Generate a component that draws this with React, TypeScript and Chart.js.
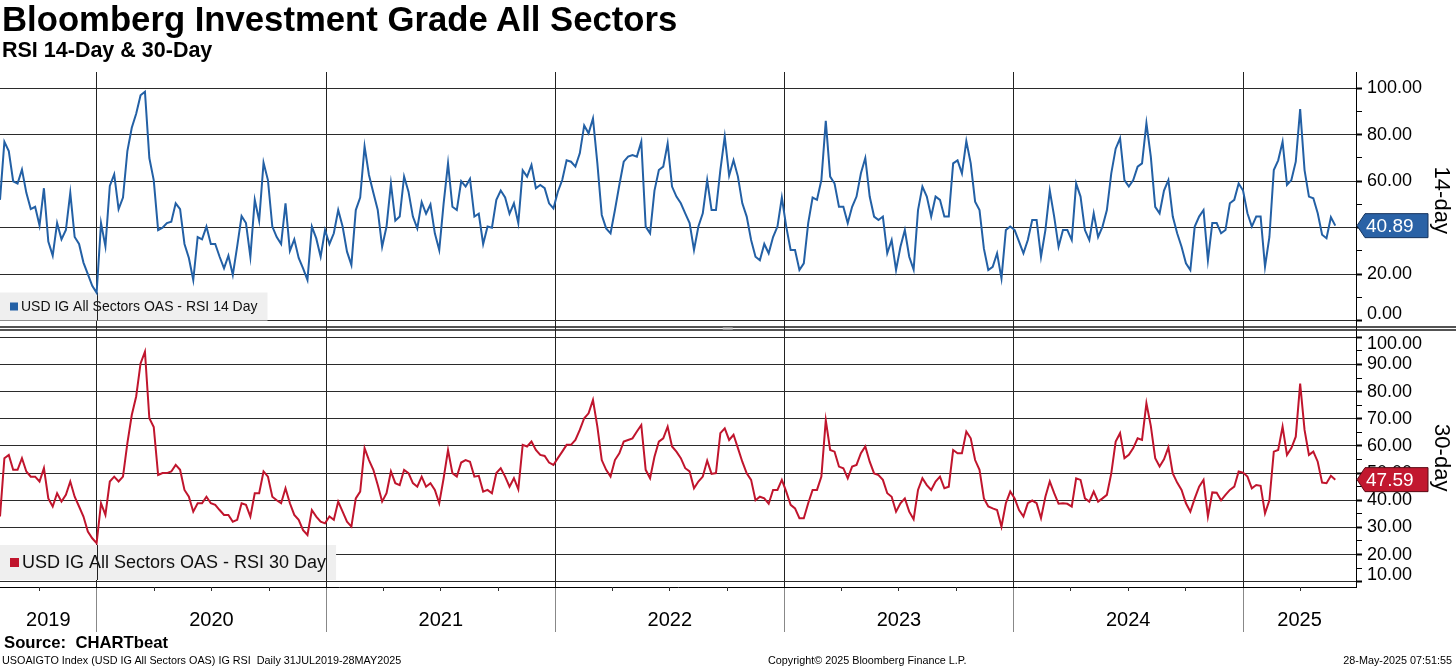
import React, { useEffect, useRef } from "react";
import { Chart, registerables } from "chart.js";

Chart.register(...registerables);

// ---------------- data ----------------
const START_DATE = "2019-07-31"; // first weekly observation
const AXIS_END_DATE = "2025-06-30";
const YEARS = ["2019", "2020", "2021", "2022", "2023", "2024", "2025"];
const RSI14_TICKS = [0, 10, 20, 30, 40, 50, 60, 70, 80, 90, 100];
const RSI14_LABELED = [0, 20, 40, 60, 80, 100];
const RSI30_TICKS = [10, 15, 20, 25, 30, 35, 40, 45, 50, 55, 60, 65, 70, 75, 80, 85, 90, 95, 100];
const RSI30_LABELED = [10, 20, 30, 40, 50, 60, 70, 80, 90, 100];
const SERIES14_NAME = "USD IG All Sectors OAS - RSI 14 Day";
const SERIES30_NAME = "USD IG All Sectors OAS - RSI 30 Day";
const AXIS14_TITLE = "14-day";
const AXIS30_TITLE = "30-day";

// weekly readings, 31JUL2019 .. 28MAY2025
const RSI14: number[] = [
  52, 77, 73, 60, 59, 65, 55, 48, 49, 41, 57, 34, 28, 42, 35, 39, 55, 36, 33, 25,
  20, 15, 12, 42, 32, 58, 63, 48, 53, 73, 83, 89, 97, 98.5, 70, 60.5, 39, 40, 42, 42.6,
  50.5, 48, 33, 27, 17.5, 36, 35, 40.5, 33, 33, 27.5, 22.5, 28, 19.7, 32, 45, 42, 27.5, 52, 43,
  68, 60.5, 40.5, 36, 33, 50.5, 30, 35, 27, 22.5, 17.5, 40.5, 35.4, 27.5, 39, 33, 37.6, 47.6, 40.5, 29.7,
  24, 47.6, 53, 75, 62.7, 55, 47.6, 31.8, 40.5, 59, 43, 44.8, 62, 55.5, 44.8, 39.7, 51, 46, 50, 37.6,
  30.4, 50.5, 67.7, 49, 47.6, 60, 57.7, 61, 44.8, 46, 33, 40.5, 40, 52, 56, 53, 46, 50.5, 42, 64.7,
  62, 67, 57, 58.4, 57, 50.5, 48.3, 55.5, 60.5, 69, 68.4, 66.3, 72, 84, 80.6, 87, 67.7, 45.5, 39.7, 37.6,
  47.6, 58.4, 68.4, 70.6, 71.3, 70.6, 77, 40.5, 37.6, 56, 64.8, 66.3, 76.3, 57.7, 53.4, 50.5, 46.2, 42, 30.4, 40.5,
  46.2, 60.5, 47.6, 47.6, 64.8, 79.2, 62.4, 69, 62, 50.5, 44.8, 34.7, 27.5, 26, 33, 29, 36, 40.5, 53, 40.5,
  30.4, 30.4, 21.8, 24.7, 42, 53, 52, 60.5, 86, 62, 59, 49, 49, 42, 49, 53.4, 63.4, 70, 53.4, 44.8,
  43.3, 44.8, 29, 34.7, 21.8, 31.8, 39, 27.5, 22, 47.6, 57.7, 53.4, 44.8, 53.4, 52, 44.8, 44.8, 67.7, 69, 63.4,
  77.3, 67.7, 51.2, 47.6, 31, 21.8, 23.2, 29, 18.2, 39, 40.5, 39, 34, 29, 34.7, 43.3, 43.3, 27.5, 39, 56,
  44.8, 31.8, 39, 39, 34.7, 59, 53.4, 39, 34.7, 46.2, 36, 40.5, 47.6, 63.4, 74, 78.5, 60.5, 57.7, 60.5, 66.3,
  67.7, 85, 70.6, 49, 46.2, 56, 60.5, 44.8, 37.6, 31.8, 24.7, 21.8, 40.5, 44.8, 47.6, 26, 42, 42, 37.6, 39,
  50.5, 52, 59, 56, 46.2, 40.5, 44.8, 44.8, 23.2, 36, 64.8, 69, 77, 58.4, 60.5, 68.4, 91, 64.8, 53.4, 52.7,
  46.2, 37, 35.5, 44.5, 40.89,
];

const RSI30: number[] = [
  34, 55.5, 56.7, 51.2, 51.2, 55.5, 50.6, 48.7, 48.7, 46.9, 51.8, 40.7, 37.7, 42.6, 39.5, 42, 46.9, 41.3, 37.7, 34,
  28.5, 26, 24.2, 38.9, 34.6, 46.9, 48.7, 46.9, 48.7, 61, 71.4, 78.2, 90.4, 94.7, 70.2, 67, 49.3, 50, 50, 50.6,
  53, 51.2, 43.8, 41.3, 35.8, 38.9, 38.9, 41.3, 38.9, 38.3, 36.4, 34.6, 34.6, 32.1, 32.8, 38.9, 38.3, 34, 42.6, 42.6,
  50.6, 48.7, 41.3, 40, 38.9, 44.4, 38.9, 34.6, 32.8, 29, 27.2, 36.4, 34, 32.1, 31.5, 34, 32.8, 39.5, 35.8, 32.1,
  30.3, 40.7, 43.2, 59.2, 54.8, 51.2, 45.6, 39.5, 42.6, 50.6, 46.3, 45.6, 51.2, 50, 46.3, 45, 48.7, 45, 46.3, 43.8,
  38.9, 48.1, 58.5, 50, 48.7, 53.9, 54.8, 54.2, 48.7, 49, 43.2, 43.8, 42.6, 50, 51.8, 48.7, 45, 48.1, 44, 60.4,
  59.8, 61.6, 58.5, 56.7, 56.3, 53.9, 53, 55.5, 57.9, 60.4, 60.4, 62.2, 65.9, 70.2, 72, 76.9, 67.1, 54.8, 51.2, 48.7,
  54.8, 57.3, 61.6, 62.2, 62.8, 65.3, 67.7, 51.2, 48.1, 56, 61.6, 62.8, 67.1, 59.8, 57.9, 55.5, 51.8, 50.6, 44.4, 46.9,
  48.7, 54.6, 49.7, 50, 64.7, 66.5, 62.2, 64.1, 59.2, 54.2, 49.9, 47.5, 40, 41.3, 40.7, 38.7, 43.8, 43.8, 47.5, 43.2,
  38.3, 37, 33.4, 33.4, 38.9, 43.8, 43.8, 48.7, 69.5, 58.5, 57.9, 52.4, 51.8, 48.1, 52.4, 53, 57.3, 59.8, 54.2, 49.9,
  49.3, 47.5, 42.6, 41.3, 35.8, 38.9, 40.7, 35.8, 33, 43.8, 48.1, 45.6, 43.8, 46.9, 48.7, 44.4, 45, 58.5, 57.3, 57.3,
  65.3, 62.8, 54.8, 51.2, 40.7, 37.7, 37, 36.4, 30.3, 38.9, 43.2, 40.7, 36.4, 34, 38.9, 39.9, 38.9, 33.4, 41.3, 46.9,
  42.6, 38.7, 38.9, 38.7, 37.7, 48.1, 47.5, 40.7, 39.5, 43.2, 39.5, 40.7, 42, 49.9, 61.6, 64.7, 55.5, 56.7, 59.2, 62.8,
  62.2, 75.7, 67.4, 55.5, 52.4, 55.1, 59.5, 49.9, 46.5, 43.8, 38.9, 35.8, 40.7, 45, 47.5, 34, 42.9, 42.8, 40, 42,
  43.8, 45, 50.6, 50.2, 48.7, 44.4, 45.6, 45.3, 35.2, 40, 57.9, 58.5, 67.1, 56.7, 59.2, 63.4, 83, 65.9, 56.7, 57.9,
  54.2, 46.5, 46.3, 49, 47.59,
];

// ---------------- helpers ----------------
const DAY_MS = 86400000;
const dayOf = (iso: string) =>
  (Date.parse(iso + "T00:00:00Z") - Date.parse(START_DATE + "T00:00:00Z")) / DAY_MS;

const X_MAX = dayOf(AXIS_END_DATE);
const YEAR_BOUNDS = YEARS.slice(1).map((y) => dayOf(`${y}-01-01`));
const YEAR_MIDS = YEARS.map((y) => {
  const s = Math.max(0, dayOf(`${y}-01-01`));
  const e = Math.min(X_MAX, dayOf(`${Number(y) + 1}-01-01`));
  return (s + e) / 2;
});
const QUARTERS = YEARS.flatMap((y) => ["01", "04", "07", "10"].map((m) => dayOf(`${y}-${m}-01`))).filter(
  (d) => d > 0 && d < X_MAX
);

const BLUE = "#2360a5";
const RED = "#c0152d";
const FONT = "'Liberation Sans', Arial, sans-serif";

const isBound = (v: number) => YEAR_BOUNDS.some((b) => Math.abs(b - v) < 0.01);
const midIndex = (v: number) => YEAR_MIDS.findIndex((m) => Math.abs(m - v) < 0.01);

// edge labels are nudged inward (pixel shift), like the terminal does
const EDGE_SHIFT: Record<string, Record<number, number>> = {
  y14: { 0: -6.5 },
  y30: { 100: 6.5, 10: -6.5 },
};

function drawTag(ctx: CanvasRenderingContext2D, x: number, y: number, text: string, fill: string, stroke: string) {
  const h = 24;
  const w = 71;
  const a = 8;
  ctx.save();
  ctx.beginPath();
  ctx.moveTo(x, y);
  ctx.lineTo(x + a, y - h / 2);
  ctx.lineTo(x + w, y - h / 2);
  ctx.lineTo(x + w, y + h / 2);
  ctx.lineTo(x + a, y + h / 2);
  ctx.closePath();
  ctx.fillStyle = fill;
  ctx.fill();
  ctx.lineWidth = 1;
  ctx.strokeStyle = stroke;
  ctx.stroke();
  ctx.fillStyle = "#ffffff";
  ctx.font = `19px ${FONT}`;
  ctx.textAlign = "left";
  ctx.textBaseline = "middle";
  ctx.fillText(text, x + a + 1, y + 1);
  ctx.restore();
}

function drawLegendBox(
  ctx: CanvasRenderingContext2D,
  left: number,
  top: number,
  bottom: number,
  text: string,
  color: string,
  fontSize: number,
  sq: number
) {
  ctx.save();
  ctx.font = `${fontSize}px ${FONT}`;
  const tw = ctx.measureText(text).width;
  const w = 10 + sq + 3 + tw + 10;
  ctx.fillStyle = "#efefef";
  ctx.fillRect(left, top, w, bottom - top);
  const cy = (top + bottom) / 2;
  ctx.fillStyle = color;
  ctx.fillRect(left + 10, cy - sq / 2, sq, sq);
  ctx.fillStyle = "#111";
  ctx.textBaseline = "middle";
  ctx.textAlign = "left";
  ctx.fillText(text, left + 10 + sq + 3, cy + 1);
  ctx.restore();
  return w;
}

const decorPlugin = {
  id: "decor",
  beforeDatasetsDraw(chart: any) {
    const { ctx, chartArea, scales } = chart;
    const y14 = scales.y14;
    const y30 = scales.y30;
    const x = scales.x;
    const w1 = drawLegendBox(ctx, chartArea.left, y14.bottom - 36, y14.bottom - 8, SERIES14_NAME, BLUE, 14, 8);
    const w2 = drawLegendBox(ctx, chartArea.left, y30.bottom - 42, y30.bottom - 7, SERIES30_NAME, RED, 18, 9);
    // year lines pass over the legend boxes
    ctx.save();
    ctx.strokeStyle = "#222";
    ctx.lineWidth = 1;
    for (const b of YEAR_BOUNDS) {
      const px = Math.round(x.getPixelForValue(b)) + 0.5;
      if (px < chartArea.left + w1) {
        ctx.beginPath();
        ctx.moveTo(px, y14.bottom - 36);
        ctx.lineTo(px, y14.bottom - 8);
        ctx.stroke();
      }
      if (px < chartArea.left + w2) {
        ctx.beginPath();
        ctx.moveTo(px, y30.bottom - 42);
        ctx.lineTo(px, y30.bottom - 7);
        ctx.stroke();
      }
    }
    ctx.restore();
  },
  afterDraw(chart: any) {
    const { ctx, chartArea, scales, width } = chart;
    const y14 = scales.y14;
    const y30 = scales.y30;
    const x = scales.x;
    ctx.save();
    // edge tick labels
    ctx.font = `18px ${FONT}`;
    ctx.fillStyle = "#000";
    ctx.textAlign = "left";
    ctx.textBaseline = "middle";
    for (const id of Object.keys(EDGE_SHIFT)) {
      const sc = scales[id];
      for (const k of Object.keys(EDGE_SHIFT[id])) {
        const v = Number(k);
        ctx.fillText(v.toFixed(2), sc.left + 11, sc.getPixelForValue(v) + EDGE_SHIFT[id][v]);
      }
    }
    // double separator between the panels
    ctx.strokeStyle = "#1a1a1a";
    ctx.lineWidth = 1.5;
    const sep = y14.bottom;
    for (const yy of [sep - 1.5, sep + 1.5]) {
      ctx.beginPath();
      ctx.moveTo(0, yy);
      ctx.lineTo(width, yy);
      ctx.stroke();
    }
    // small splitter handle
    ctx.fillStyle = "#d6d6d6";
    ctx.fillRect(chartArea.left + (chartArea.right - chartArea.left) * 0.533, sep - 1, 10, 2);
    // quarterly minor ticks on the date axis
    ctx.lineWidth = 1;
    ctx.strokeStyle = "#333";
    for (const q of QUARTERS) {
      if (isBound(q)) continue;
      const px = Math.round(x.getPixelForValue(q)) + 0.5;
      ctx.beginPath();
      ctx.moveTo(px, chartArea.bottom);
      ctx.lineTo(px, chartArea.bottom + 4);
      ctx.stroke();
    }
    ctx.restore();
    // last-value tags
    const last14 = RSI14[RSI14.length - 1];
    const last30 = RSI30[RSI30.length - 1];
    drawTag(ctx, chartArea.right + 1, y14.getPixelForValue(last14), last14.toFixed(2), "#2a62a6", "#15335c");
    drawTag(ctx, chartArea.right + 1, y30.getPixelForValue(last30), last30.toFixed(2), "#c2182f", "#5a0a14");
  },
};

function yAxis(
  id: string,
  ticksList: number[],
  labeled: number[],
  min: number,
  max: number,
  weight: number,
  title: string
) {
  const edges = EDGE_SHIFT[id] || {};
  return {
    type: "linear",
    position: "right",
    stack: "panels",
    stackWeight: weight,
    min,
    max,
    bounds: "data",
    afterBuildTicks: (s: any) => {
      s.ticks = ticksList.map((v) => ({ value: v }));
    },
    afterFit: (s: any) => {
      s.width = 100;
    },
    ticks: {
      autoSkip: false,
      padding: 5,
      color: "#000",
      font: { family: FONT, size: 18 },
      callback: (v: number) => (labeled.includes(v) && !(v in edges) ? Number(v).toFixed(2) : ""),
    },
    grid: {
      drawOnChartArea: true,
      drawTicks: true,
      tickLength: 6,
      lineWidth: 1,
      color: (c: any) => (c.tick && labeled.includes(c.tick.value) ? "#2b2b2b" : "rgba(0,0,0,0)"),
      tickColor: "#000",
      tickWidth: (c: any) => (c.tick && labeled.includes(c.tick.value) ? 2 : 1),
    },
    border: { display: true, color: "#000", width: 1 },
    title: {
      display: true,
      text: title,
      color: "#000",
      font: { family: FONT, size: 22 },
      padding: { top: 2, bottom: 0 },
    },
  };
}

export default function App() {
  const ref = useRef<HTMLCanvasElement>(null);

  useEffect(() => {
    if (!ref.current) return;
    const pts14 = RSI14.map((v, i) => ({ x: i * 7, y: v }));
    const pts30 = RSI30.map((v, i) => ({ x: i * 7, y: v }));
    const chart = new Chart(ref.current, {
      type: "line",
      data: {
        datasets: [
          {
            label: SERIES14_NAME,
            data: pts14,
            yAxisID: "y14",
            borderColor: BLUE,
            borderWidth: 2,
            pointRadius: 0,
            tension: 0,
            fill: false,
          },
          {
            label: SERIES30_NAME,
            data: pts30,
            yAxisID: "y30",
            borderColor: RED,
            borderWidth: 2,
            pointRadius: 0,
            tension: 0,
            fill: false,
          },
        ],
      },
      options: {
        animation: false,
        responsive: false,
        events: [],
        layout: { padding: { top: 72, bottom: 36, left: 0, right: 0 } },
        plugins: { legend: { display: false }, tooltip: { enabled: false } },
        scales: {
          x: {
            type: "linear",
            min: 0,
            max: X_MAX,
            bounds: "data",
            afterBuildTicks: (s: any) => {
              s.ticks = [...YEAR_BOUNDS, ...YEAR_MIDS].sort((a, b) => a - b).map((v) => ({ value: v }));
            },
            afterFit: (s: any) => {
              s.height = 45;
            },
            ticks: {
              autoSkip: false,
              maxRotation: 0,
              minRotation: 0,
              padding: -24,
              color: "#000",
              font: { family: FONT, size: 20 },
              callback: (v: number) => {
                const i = midIndex(Number(v));
                return i >= 0 ? YEARS[i] : "";
              },
            },
            grid: {
              drawOnChartArea: true,
              drawTicks: true,
              tickLength: 45,
              lineWidth: 1,
              color: (c: any) => (c.tick && isBound(c.tick.value) ? "#222" : "rgba(0,0,0,0)"),
              tickColor: (c: any) => (c.tick && isBound(c.tick.value) ? "#888" : "rgba(0,0,0,0)"),
            },
            border: { display: true, color: "#000", width: 1 },
          },
          y14: yAxis("y14", RSI14_TICKS, RSI14_LABELED, -3.36, 107.0, 256.5, AXIS14_TITLE),
          y30: yAxis("y30", RSI30_TICKS, RSI30_LABELED, 8.06, 103.24, 258.5, AXIS30_TITLE),
        },
      } as any,
      plugins: [decorPlugin],
    });
    return () => chart.destroy();
  }, []);

  const base: React.CSSProperties = {
    position: "absolute",
    whiteSpace: "pre",
    lineHeight: 1,
    color: "#000",
    fontFamily: FONT,
  };

  return (
    <div
      style={{
        position: "fixed",
        left: 0,
        top: 0,
        width: 1456,
        height: 668,
        background: "#fff",
        overflow: "hidden",
      }}
    >
      <canvas
        ref={ref}
        width={1456}
        height={668}
        style={{ position: "absolute", left: 0, top: 0, width: 1456, height: 668 }}
      />
      <div style={{ ...base, left: 2, top: 2, fontSize: 34.7, fontWeight: 700 }}>
        Bloomberg Investment Grade All Sectors
      </div>
      <div style={{ ...base, left: 2, top: 40, fontSize: 21.5, fontWeight: 700 }}>RSI 14-Day &amp; 30-Day</div>
      <div style={{ ...base, left: 4, top: 635, fontSize: 16.7, fontWeight: 700 }}>Source:  CHARTbeat</div>
      <div style={{ ...base, left: 2, top: 655, fontSize: 10.8 }}>
        USOAIGTO Index (USD IG All Sectors OAS) IG RSI  Daily 31JUL2019-28MAY2025
      </div>
      <div style={{ ...base, left: 768, top: 655, fontSize: 10.8 }}>Copyright© 2025 Bloomberg Finance L.P.</div>
      <div style={{ ...base, right: 4, top: 655, fontSize: 10.8 }}>28-May-2025 07:51:55</div>
    </div>
  );
}
